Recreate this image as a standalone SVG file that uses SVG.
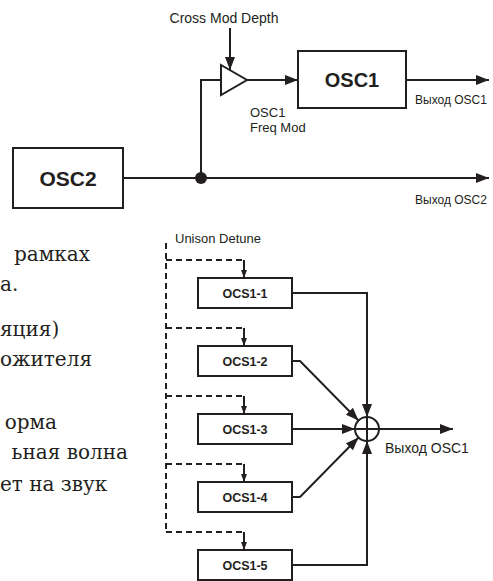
<svg xmlns="http://www.w3.org/2000/svg" width="493" height="581" viewBox="0 0 493 581">
<defs>
<marker id="arr" markerUnits="userSpaceOnUse" markerWidth="13" markerHeight="10" refX="13" refY="5" orient="auto"><path d="M0,0 L13,5 L0,10 z" fill="#231f20"/></marker>
<marker id="arrS" markerUnits="userSpaceOnUse" markerWidth="8" markerHeight="6" refX="8" refY="3" orient="auto"><path d="M0,0 L8,3 L0,6 z" fill="#231f20"/></marker>
</defs>
<style>
.box{fill:#fff;stroke:#231f20;stroke-width:2}
.ln{fill:none;stroke:#231f20;stroke-width:2}
.dash{fill:none;stroke:#231f20;stroke-width:2;stroke-dasharray:6,4}
.big{font-family:"Liberation Sans",Arial,sans-serif;font-weight:bold;font-size:20px;fill:#231f20;text-anchor:middle}
.sm{font-family:"Liberation Sans",Arial,sans-serif;font-weight:bold;font-size:12.5px;fill:#231f20;text-anchor:middle}
.lbl{font-family:"Liberation Sans",Arial,sans-serif;font-size:12px;fill:#231f20}
.serif{font-family:"DejaVu Serif","Liberation Serif",serif;font-size:20px;fill:#231f20}
.r{text-anchor:end}
</style>
<rect width="493" height="581" fill="#fff"/>

<g id="connectors">
  <line class="ln" x1="230" y1="28" x2="230" y2="70" marker-end="url(#arr)"/>
  <path class="ln" d="M201,178 V80 H221"/>
  <line class="ln" x1="247" y1="80" x2="298" y2="80" marker-end="url(#arr)"/>
  <line class="ln" x1="406" y1="80" x2="489" y2="80" marker-end="url(#arr)"/>
  <line class="ln" x1="123" y1="178" x2="489" y2="178" marker-end="url(#arr)"/>
  <circle cx="201" cy="178" r="6" fill="#231f20"/>

  <path class="dash" d="M166,243 V533"/>
  <path class="dash" d="M166,260 H244 M166,328 H244 M166,396 H244 M166,464 H244 M166,532 H244"/>
  <line class="ln" x1="244" y1="260" x2="244" y2="278" stroke-width="1.5" marker-end="url(#arrS)"/>
  <line class="ln" x1="244" y1="328" x2="244" y2="346" stroke-width="1.5" marker-end="url(#arrS)"/>
  <line class="ln" x1="244" y1="396" x2="244" y2="414" stroke-width="1.5" marker-end="url(#arrS)"/>
  <line class="ln" x1="244" y1="464" x2="244" y2="482" stroke-width="1.5" marker-end="url(#arrS)"/>
  <line class="ln" x1="244" y1="532" x2="244" y2="550" stroke-width="1.5" marker-end="url(#arrS)"/>

  <path class="ln" d="M292,293 H367 V417" marker-end="url(#arr)"/>
  <path class="ln" d="M292,361 H300 L358.5,420.5" marker-end="url(#arr)"/>
  <path class="ln" d="M292,429 H355" marker-end="url(#arr)"/>
  <path class="ln" d="M292,497 H300 L358.5,437.5" marker-end="url(#arr)"/>
  <path class="ln" d="M292,565 H367 V441" marker-end="url(#arr)"/>
  <path class="ln" d="M379,429 H453" marker-end="url(#arr)"/>
</g>

<g id="amp"><path class="box" d="M221,65 L247,80 L221,95 z"/></g>
<g id="osc1"><rect class="box" x="298" y="51" width="108" height="57"/><text class="big" x="352" y="87">OSC1</text></g>
<g id="osc2"><rect class="box" x="13" y="148" width="110" height="60"/><text class="big" x="68" y="186" style="font-size:21px">OSC2</text></g>

<g id="ocs1-1"><rect class="box" x="198" y="278" width="94" height="30"/><text class="sm" x="245" y="297.5">OCS1-1</text></g>
<g id="ocs1-2"><rect class="box" x="198" y="346" width="94" height="30"/><text class="sm" x="245" y="365.5">OCS1-2</text></g>
<g id="ocs1-3"><rect class="box" x="198" y="414" width="94" height="30"/><text class="sm" x="245" y="433.5">OCS1-3</text></g>
<g id="ocs1-4"><rect class="box" x="198" y="482" width="94" height="30"/><text class="sm" x="245" y="501.5">OCS1-4</text></g>
<g id="ocs1-5"><rect class="box" x="198" y="550" width="94" height="30"/><text class="sm" x="245" y="569.5">OCS1-5</text></g>

<g id="sum"><circle class="box" cx="367" cy="429" r="12"/><path class="ln" d="M355,429 H379 M367,417 V441"/></g>

<g id="labels">
  <text class="lbl" x="224" y="23" text-anchor="middle" style="font-size:14px">Cross Mod Depth</text>
  <text class="lbl" x="250" y="117" style="font-size:13px">OSC1</text>
  <text class="lbl" x="250" y="132" style="font-size:13px">Freq Mod</text>
  <text class="lbl" x="415" y="104">Выход OSC1</text>
  <text class="lbl" x="415" y="204">Выход OSC2</text>
  <text class="lbl" x="175" y="243" style="font-size:13px">Unison Detune</text>
  <text class="lbl" x="385" y="453" style="font-size:14px">Выход OSC1</text>
</g>

<g id="page-text">
  <text class="serif r" x="90" y="261">рамках</text>
  <text class="serif" x="0" y="291">а.</text>
  <text class="serif" x="0" y="336">яция)</text>
  <text class="serif" x="0" y="366">ожителя</text>
  <text class="serif r" x="57" y="429">орма</text>
  <text class="serif r" x="128" y="459">ьная волна</text>
  <text class="serif" x="0" y="491">ет на звук</text>
</g>
</svg>
